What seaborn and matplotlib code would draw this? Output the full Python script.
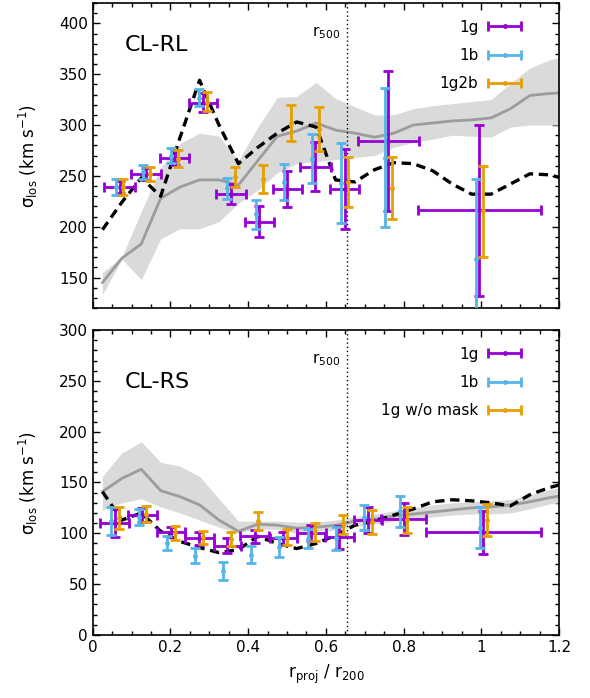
import numpy as np
import matplotlib
matplotlib.use("Agg")
import matplotlib.pyplot as plt
from matplotlib.lines import Line2D
from matplotlib.legend_handler import HandlerBase
from matplotlib.ticker import MultipleLocator, FuncFormatter
import seaborn as sns

# ---------------- data ----------------
# radial grid of the simulated profiles (r_proj / r200)
grid_r = [0.025, 0.075, 0.125, 0.175, 0.225, 0.275, 0.325, 0.375, 0.425, 0.475,
          0.525, 0.575, 0.625, 0.675, 0.725, 0.775, 0.825, 0.875, 0.925, 0.975,
          1.025, 1.075, 1.125, 1.175, 1.225]

# CL-RL: simulated median + range, and model (dashed)
rl_med = [145, 169, 183, 228, 239, 246, 246, 241, 265, 289, 294, 302, 295, 292,
          288, 292, 300, 302, 304, 305, 307, 316, 329, 331, 332]
rl_hi = [155, 170, 215, 258, 282, 292, 289, 265, 298, 327, 328, 342, 326, 318,
         310, 310, 316, 319, 321, 323, 325, 341, 356, 364, 368]
rl_lo = [133, 168, 148, 188, 198, 198, 205, 223, 236, 253, 262, 264, 266, 268,
         270, 278, 283, 286, 290, 289, 288, 298, 300, 300, 300]
rl_model = [197, 224, 248, 230, 288, 344, 300, 262, 278, 292, 303, 298, 246, 244,
            256, 263, 262, 255, 242, 232, 232, 242, 252, 251, 246]

# CL-RL binned dispersions
rl_r = [0.069, 0.138, 0.211, 0.284, 0.356, 0.429, 0.501, 0.573, 0.648, 0.761, 0.995]
rl_rerr = [0.039, 0.039, 0.037, 0.037, 0.038, 0.037, 0.038, 0.039, 0.038, 0.078, 0.158]
rl_1g = [239, 252, 268, 322, 232, 205, 237, 259, 237, 284, 216]
rl_1g_err = [6, 6, 7.5, 9, 10, 15, 18, 24, 39, 69, 84]
rl_1b = [239, 254, 270, 327, 238, 212, 244, 267, 243, 268, 168]
rl_1b_err = [8, 7, 7.5, 8.7, 10.3, 14.4, 17.5, 23.8, 39.5, 68.7, 78.6]
rl_1g2b = [239, 252, 267, 323, 249, 247, 302, 296, 244, 238, 215]
rl_1g2b_err = [8, 7, 8, 9, 10, 13.5, 17.5, 21.7, 24.6, 30.4, 45]

# CL-RS: simulated median + range, and model (dashed)
rs_med = [141, 154, 163, 142, 136, 128, 113, 102, 109, 108, 105, 106, 108, 112,
          114, 117, 119, 121, 123, 125, 126, 128, 131, 135, 138]
rs_hi = [156, 179, 190, 170, 166, 156, 134, 112, 112, 112, 111, 111, 113, 116,
         119, 122, 125, 128, 130, 131, 132, 133, 138, 143, 146]
rs_lo = [123, 130, 134, 126, 120, 113, 106, 101, 104, 104, 100, 102, 103, 107,
         109, 112, 114, 116, 118, 119, 119, 120, 124, 129, 131]
rs_model = [141, 113, 120, 102, 92, 86, 81, 84, 97, 90, 85, 90, 98, 108,
            112, 118, 124, 131, 133, 132, 130, 127, 138, 145, 150]

# CL-RS binned dispersions
rs_r = [0.057, 0.128, 0.202, 0.274, 0.346, 0.417, 0.490, 0.563, 0.635, 0.708, 0.800, 1.005]
rs_rerr = [0.037, 0.037, 0.036, 0.037, 0.035, 0.037, 0.035, 0.0385, 0.0375, 0.0365, 0.058, 0.1475]
rs_1g = [110, 118, 101, 95, 88, 97, 95, 100, 96, 113, 114, 101]
rs_1g_err = [13.8, 6.5, 5, 6.5, 7, 6.5, 6, 8, 11, 13, 16, 21.3]
rs_1b = [112, 116, 90.5, 78, 63, 79, 86.5, 94.7, 95, 115.6, 121.6, 105.7]
rs_1b_err = [13.9, 8.2, 6.9, 7.4, 9, 8.5, 9.5, 9.3, 11.2, 12.3, 15.1, 20.5]
rs_nomask = [115, 119, 100, 96, 94, 112, 96, 101, 109, 111, 113, 113]
rs_nomask_err = [11.1, 7.7, 6.9, 6.6, 6.9, 9, 7.8, 8.7, 9.3, 11.5, 13.1, 15.8]

r500 = 0.655

# ---------------- style ----------------
sns.set_theme(style="ticks")
plt.rcParams["font.family"] = ["DejaVu Sans"]
plt.rcParams["mathtext.fontset"] = "dejavusans"
plt.rcParams["axes.linewidth"] = 1.2
for key in ("text.color", "axes.labelcolor", "xtick.color", "ytick.color",
            "axes.edgecolor"):
    plt.rcParams[key] = "black"

C_1G = "#9400D3"
C_1B = "#56B4E9"
C_OR = "#E69F00"
C_MED = "#9c9c9c"
C_BAND = "#dadada"
DODGE = 0.0095


class CapBarHandler(HandlerBase):
    """Legend key: horizontal bar with end caps and a centre dot."""

    def create_artists(self, legend, orig_handle, xdescent, ydescent,
                       width, height, fontsize, trans):
        c = orig_handle.get_color()
        y = height / 2.0 - ydescent
        x0, x1 = -xdescent, width - xdescent
        bar = Line2D([x0, x1], [y, y], color=c, lw=2.0, transform=trans)
        caps = Line2D([x0, x1], [y, y], ls="none", marker="|", ms=7.5, mew=2.0,
                      color=c, transform=trans)
        dot = Line2D([(x0 + x1) / 2], [y], ls="none", marker="o", ms=2.5,
                     color=c, transform=trans)
        return [bar, caps, dot]


def draw_panel(ax, med, lo, hi, model, r, rerr, series, labels, title, title_y,
               ylim, ymajor):
    ax.fill_between(grid_r, lo, hi, color=C_BAND, lw=0, zorder=1)
    sns.lineplot(x=grid_r, y=med, ax=ax, color=C_MED, lw=2.0, estimator=None,
                 sort=False, legend=False, zorder=2)
    sns.lineplot(x=grid_r, y=model, ax=ax, color="black", lw=2.4, estimator=None,
                 sort=False, legend=False, zorder=3, linestyle=(0, (2.8, 1.7)))
    ax.axvline(r500, color="black", lw=1.0, ls=(0, (1, 2)), zorder=2)

    handles = []
    offsets = [0.0, -DODGE, DODGE]
    colors = [C_1G, C_1B, C_OR]
    for k, ((vals, errs), c, off) in enumerate(zip(series, colors, offsets)):
        xs = [v + off for v in r]
        ax.errorbar(xs, vals, yerr=errs, xerr=rerr if k == 0 else None,
                    fmt="o", ms=2.5, color=c, ecolor=c, elinewidth=2.0,
                    capsize=3.5, capthick=2.0, zorder=4 + k)
        handles.append(Line2D([], [], color=c))

    ax.legend(handles, labels, handler_map={Line2D: CapBarHandler()},
              loc="upper right", bbox_to_anchor=(0.918, 0.945),
              frameon=False, markerfirst=False, fontsize=11,
              handlelength=2.12, handletextpad=0.65, labelspacing=0.86,
              borderpad=0, borderaxespad=0)

    ax.text(0.069, title_y, title, transform=ax.transAxes, fontsize=16,
            va="center", ha="left")
    ax.text(0.637, 0.903, "r$_{500}$", transform=ax.get_xaxis_transform(),
            fontsize=11, ha="right", va="center")

    ax.set_xlim(0, 1.2)
    ax.set_ylim(*ylim)
    ax.xaxis.set_major_locator(MultipleLocator(0.2))
    ax.xaxis.set_minor_locator(MultipleLocator(0.05))
    ax.yaxis.set_major_locator(MultipleLocator(ymajor))
    ax.yaxis.set_minor_locator(MultipleLocator(10))
    ax.xaxis.set_major_formatter(FuncFormatter(lambda v, p: f"{v:g}"))
    ax.tick_params(which="both", direction="in", top=True, right=True,
                   labelsize=11, width=1.0, colors="black")
    ax.tick_params(which="major", length=5)
    ax.tick_params(which="minor", length=2.6)
    ax.set_ylabel(r"σ$_{\rm los}$ (km s$^{-1}$)", fontsize=12)
    ax.yaxis.set_label_coords(-0.113, 0.5)


fig = plt.figure(figsize=(5.9, 6.98), dpi=100)
ax_top = fig.add_axes([0.1571, 0.5587, 0.7904, 0.4370])
ax_bot = fig.add_axes([0.1571, 0.0903, 0.7904, 0.4369])

draw_panel(ax_top, rl_med, rl_lo, rl_hi, rl_model, rl_r, rl_rerr,
           [(rl_1g, rl_1g_err), (rl_1b, rl_1b_err), (rl_1g2b, rl_1g2b_err)],
           ["1g", "1b", "1g2b"], "CL-RL", 0.862, (120, 420), 50)
draw_panel(ax_bot, rs_med, rs_lo, rs_hi, rs_model, rs_r, rs_rerr,
           [(rs_1g, rs_1g_err), (rs_1b, rs_1b_err), (rs_nomask, rs_nomask_err)],
           ["1g", "1b", "1g w/o mask"], "CL-RS", 0.830, (0, 300), 50)

ax_top.tick_params(labelbottom=False)
ax_top.set_xlabel("")
ax_bot.set_xlabel(r"r$_{\rm proj}$ / r$_{200}$", fontsize=12, labelpad=6)

fig.savefig("out.png", dpi=100)
